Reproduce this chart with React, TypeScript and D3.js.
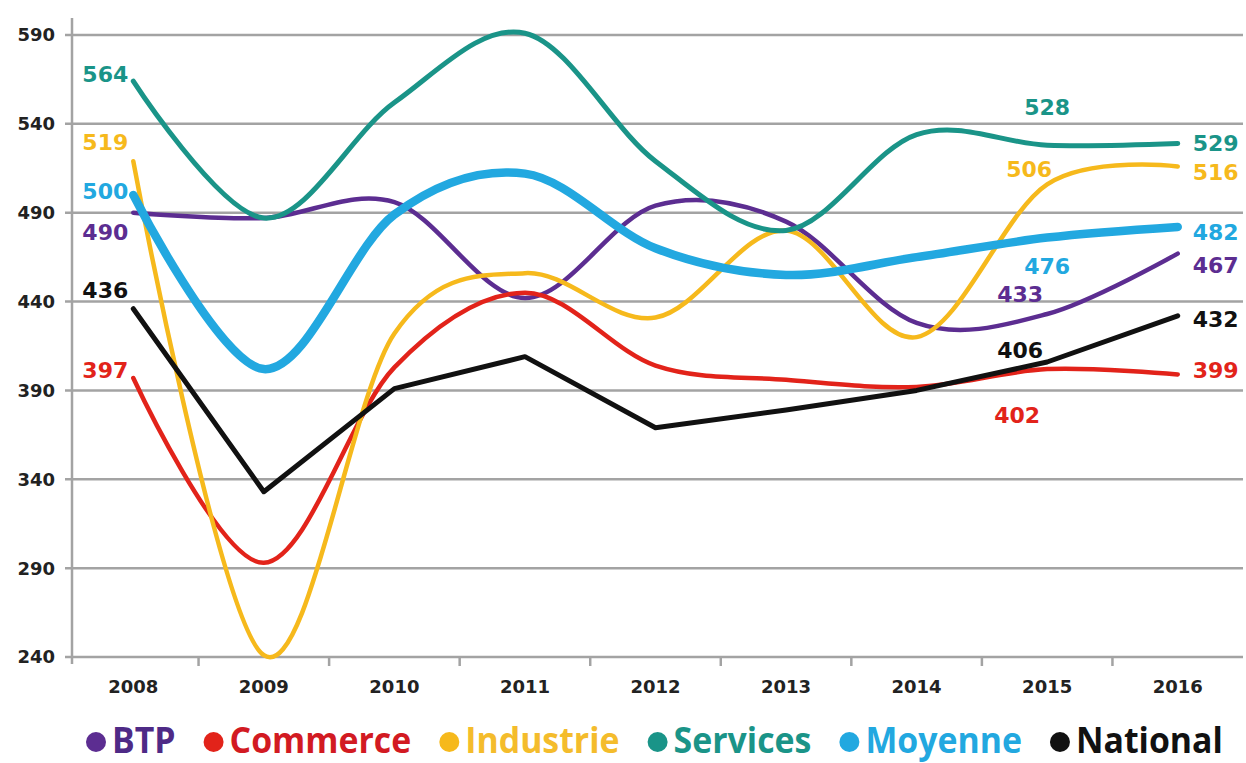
import React, { useMemo } from "react";
import * as d3 from "d3";

const years = [2008, 2009, 2010, 2011, 2012, 2013, 2014, 2015, 2016];
const yTicks = [240, 290, 340, 390, 440, 490, 540, 590];

const btp = [490, 487, 496, 442, 494, 485, 428, 433, 467];
const commerce = [397, 293, 403, 445, 404, 396, 392, 402, 399];
const industrie = [519, 241, 422, 456, 431, 480, 420, 506, 516];
const services = [564, 487, 552, 591, 519, 480, 534, 528, 529];
const moyenne = [500, 402, 489, 512, 470, 455, 465, 476, 482];
const national = [436, 333, 391, 409, 369, 379, 390, 406, 432];

const seriesNames = ["BTP", "Commerce", "Industrie", "Services", "Moyenne", "National"];
const seriesValues = [btp, commerce, industrie, services, moyenne, national];

// styling (kept apart from data)
const colors: Record<string, string> = {
  BTP: "#5c2d91",
  Commerce: "#e2231a",
  Industrie: "#f6b91c",
  Services: "#1a9488",
  Moyenne: "#22a8e0",
  National: "#111111",
};
const legendText: Record<string, string> = {
  BTP: "#4e2a86",
  Commerce: "#d21a22",
  Industrie: "#f4bc2c",
  Services: "#1a9488",
  Moyenne: "#22a8e0",
  National: "#111111",
};
const widths: Record<string, number> = {
  BTP: 4.5, Commerce: 4.5, Industrie: 4.5, Services: 5, Moyenne: 8.5, National: 5,
};
// label offsets: [dx, dy] per series, for 2008 (end anchor), 2015 (middle), 2016 (start)
const off2008: Record<string, number[]> = {
  BTP: [-5, 27], Commerce: [-5, 0], Industrie: [-5, -11], Services: [-5, 1], Moyenne: [-5, 4], National: [-5, -11],
};
const off2015: Record<string, number[]> = {
  Services: [0, -30], Industrie: [-18, -7], Moyenne: [0, 36], BTP: [-27, -12], National: [-27, -4], Commerce: [-30, 54],
};
const off2016: Record<string, number[]> = {
  Services: [15, 8], Industrie: [15, 13], Moyenne: [15, 13], BTP: [15, 19], National: [15, 11], Commerce: [15, 4],
};

const W = 1246, H = 763;
const LEGEND_SCALE = 0.94;

export default function App() {
  const x = d3.scaleBand<number>().domain(years).range([68, 1243]);
  const cx = (yr: number) => (x(yr) as number) + x.bandwidth() / 2;
  const y = d3.scaleLinear().domain([240, 590]).range([657, 35]);

  const legendFont = 'bold 36px "Open Sans", sans-serif';
  const legendLayout = useMemo(() => {
    const ctx = document.createElement("canvas").getContext("2d")!;
    ctx.font = legendFont;
    let pos = 96;
    return seriesNames.map((n) => {
      const w = ctx.measureText(n).width * LEGEND_SCALE;
      const item = { name: n, cx: pos, tx: pos + 16 };
      pos = pos + 16 + w + 38;
      return item;
    });
  }, []);

  const gen = (name: string) =>
    d3
      .line<number>()
      .x((_, i) => cx(years[i]))
      .y((v) => y(v))
      .curve(name === "National" ? d3.curveLinear : d3.curveCardinal.tension(0));

  const labelFont = { fontFamily: '"DejaVu Sans", sans-serif', fontWeight: 700, fontSize: 22 };

  return (
    <svg width={W} height={H} style={{ display: "block", background: "#fff" }}>
      <style>{`body{margin:0}`}</style>
      {/* grid */}
      {yTicks.map((t) => (
        <g key={t}>
          <line x1={65} x2={1243} y1={y(t)} y2={y(t)} stroke="#a3a3a3" strokeWidth={2.5} />
          <text x={55} y={y(t)} dy="0.36em" textAnchor="end" fill="#222"
            style={{ fontFamily: '"DejaVu Sans", sans-serif', fontWeight: 700, fontSize: 18 }}>
            {t}
          </text>
        </g>
      ))}
      <line x1={72} x2={72} y1={18} y2={664} stroke="#a3a3a3" strokeWidth={2.5} />
      {years.slice(1).map((yr) => (
        <line key={yr} x1={x(yr)} x2={x(yr)} y1={657} y2={666} stroke="#a3a3a3" strokeWidth={2.5} />
      ))}
      {years.map((yr) => (
        <text key={yr} x={cx(yr)} y={693} textAnchor="middle" fill="#222"
          style={{ fontFamily: '"DejaVu Sans", sans-serif', fontWeight: 700, fontSize: 18 }}>
          {yr}
        </text>
      ))}
      {/* lines */}
      {seriesNames.map((n, si) => (
        <path key={n} d={gen(n)(seriesValues[si]) || ""} fill="none" stroke={colors[n]}
          strokeWidth={widths[n]} strokeLinejoin="round" strokeLinecap="round" />
      ))}
      {/* labels */}
      {seriesNames.map((n, si) => {
        const v = seriesValues[si];
        return (
          <g key={n} fill={colors[n]} style={labelFont}>
            <text x={cx(years[0]) + off2008[n][0]} y={y(v[0]) + off2008[n][1]} textAnchor="end">{v[0]}</text>
            <text x={cx(years[7]) + off2015[n][0]} y={y(v[7]) + off2015[n][1]} textAnchor="middle">{v[7]}</text>
            <text x={cx(years[8]) + off2016[n][0]} y={y(v[8]) + off2016[n][1]} textAnchor="start">{v[8]}</text>
          </g>
        );
      })}
      {/* legend */}
      {legendLayout.map((it) => (
        <g key={it.name}>
          <circle cx={it.cx} cy={742} r={10} fill={colors[it.name]} />
          <g transform={`translate(${it.tx},753) scale(${LEGEND_SCALE},1)`}>
            <text x={0} y={0} fill={legendText[it.name]} style={{ font: legendFont }}>
              {it.name}
            </text>
          </g>
        </g>
      ))}
    </svg>
  );
}
